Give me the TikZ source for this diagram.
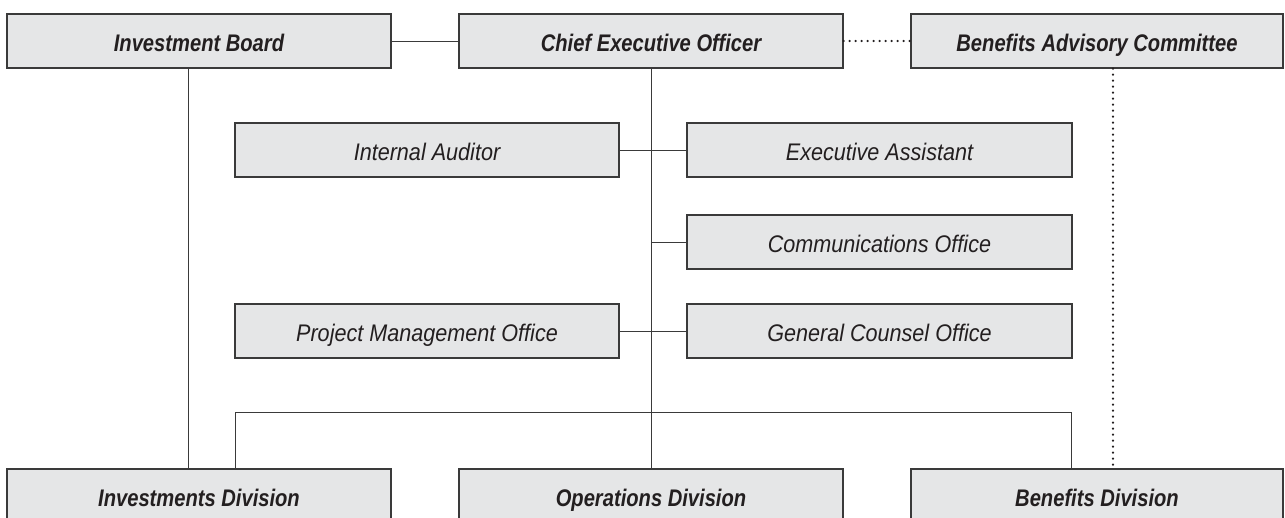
\documentclass[tikz,border=0pt]{standalone}
\usepackage{fontspec}
\setmainfont{Liberation Sans}[
  ItalicFeatures={FakeStretch=0.90},
  BoldItalicFeatures={FakeStretch=0.84}]
\definecolor{boxfill}{HTML}{E5E6E7}
\definecolor{boxline}{HTML}{3A3A3A}
\definecolor{inktext}{HTML}{231F20}

\begin{document}
\begin{tikzpicture}[x=1pt,y=-1pt,
    box/.style={draw=boxline, fill=boxfill, line width=1.2pt, minimum height=54pt, inner sep=0pt,
      text height=24pt, text depth=3pt, text=inktext, font=\fontsize{24}{28}\selectfont\itshape},
    headbox/.style={box, font=\fontsize{24}{28}\selectfont\bfseries\itshape},
    link/.style={draw=boxline, line width=1pt},
    dotlink/.style={draw=inktext, line width=2.4pt, line cap=round, dash pattern=on 0pt off 6pt}]
  \useasboundingbox (0,0) rectangle (1285,517);

  % top row
  \node[headbox, minimum width=384pt] (board) at (199,41) {Investment Board};
  \node[headbox, minimum width=384pt] (ceo) at (651,41) {Chief Executive Officer};
  \node[headbox, minimum width=372pt] (bac) at (1097,41) {Benefits Advisory Committee};

  % staff offices
  \node[box, minimum width=384pt] (audit) at (427,150) {Internal Auditor};
  \node[box, minimum width=385pt] (assist) at (879.5,150) {Executive Assistant};
  \node[box, minimum width=385pt] (comms) at (879.5,242) {Communications Office};
  \node[box, minimum width=384pt] (pmo) at (427,331) {Project Management Office};
  \node[box, minimum width=385pt] (counsel) at (879.5,331) {General Counsel Office};

  % divisions
  \node[headbox, minimum width=384pt] (inv) at (199,496) {Investments Division};
  \node[headbox, minimum width=384pt] (ops) at (651,496) {Operations Division};
  \node[headbox, minimum width=372pt] (ben) at (1097,496) {Benefits Division};

  % connectors
  \draw[link] (board) -- (ceo);
  \draw[dotlink] (ceo.east) -- (bac.west);
  \draw[link] ([xshift=-11pt]board.south) -- ([xshift=-11pt]inv.north);
  \draw[link] (ceo.south) -- (ops.north);
  \draw[link] (audit) -- (assist);
  \draw[link] (ceo.south |- comms.west) -- (comms.west);
  \draw[link] (pmo) -- (counsel);
  % division bus
  \coordinate (busL) at (235,412);
  \coordinate (busR) at (1071,412);
  \draw[link] (busL |- inv.north) -- (busL) -- (busR) -- (busR |- ben.north);
  \draw[dotlink] ([xshift=16pt]bac.south) -- ([xshift=16pt]ben.north);
\end{tikzpicture}
\end{document}
